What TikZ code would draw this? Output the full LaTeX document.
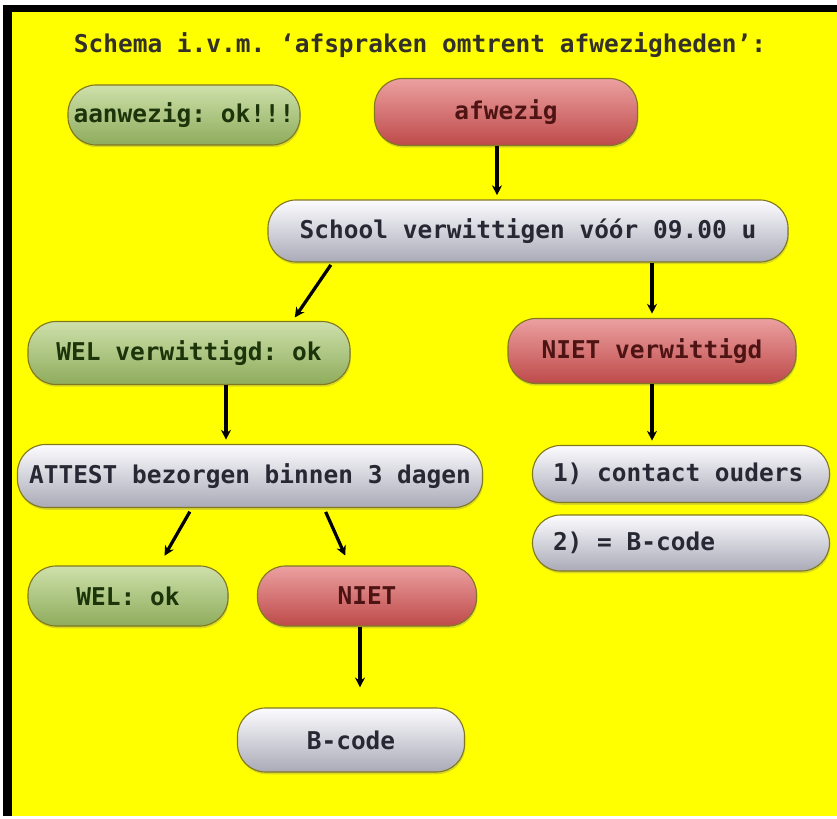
\documentclass[tikz,border=0pt]{standalone}
\usepackage{fontspec}
\setmonofont{DejaVu Sans Mono}
\usetikzlibrary{arrows.meta, positioning, shadows}

\definecolor{bgyellow}{RGB}{255,255,0}
\definecolor{greentop}{RGB}{206,224,170}
\definecolor{greenbot}{RGB}{142,172,92}
\definecolor{greentext}{RGB}{28,52,10}
\definecolor{redtop}{RGB}{236,160,160}
\definecolor{redbot}{RGB}{190,74,74}
\definecolor{redtext}{RGB}{78,20,20}
\definecolor{greytop}{RGB}{252,252,255}
\definecolor{greybot}{RGB}{170,170,184}
\definecolor{greytext}{RGB}{40,40,52}
\definecolor{rim}{RGB}{130,120,30}

\tikzstyle{pill} = [
    rectangle,
    rounded corners = 0.7cm,
    minimum height = 1.5cm,
    inner xsep = 2pt,
    text centered,
    draw = rim,
    line width = 0.8pt,
    font = \fontsize{17.4}{20}\selectfont\ttfamily\bfseries,
    drop shadow = {shadow xshift = 0.6pt, shadow yshift = -1.6pt, opacity = 0.3}
]
\tikzstyle{okpill} = [
    pill,
    top color = greentop,
    bottom color = greenbot,
    text = greentext
]
\tikzstyle{nopill} = [
    pill,
    top color = redtop,
    bottom color = redbot,
    text = redtext
]
\tikzstyle{infopill} = [
    pill,
    top color = greytop,
    bottom color = greybot,
    text = greytext
]
\tikzstyle{heading} = [
    font = \fontsize{17.4}{20}\selectfont\ttfamily\bfseries,
    text = black!85!olive
]
\tikzstyle{arrow} = [line width = 2.3pt, ->, >={Stealth[length = 7pt, width = 7pt]}, shorten > = 3pt]

\begin{document}
\begin{tikzpicture}[node distance = 3cm]
    % frame
    \useasboundingbox (0,0) rectangle (20.925,-20.475);
    \fill [white] (0,0) rectangle (20.925,-20.475);
    \fill [black] (0.075,-0.125) rectangle (20.925,-20.4);
    \fill [bgyellow] (0.3,-0.3) rectangle (20.925,-20.4);

    \node (title) [heading] at (10.5,-1.125)
        {Schema i.v.m. ‘afspraken omtrent afwezigheden’:};

    \node (aanwezig) [okpill, minimum width = 5.8cm] at (4.6,-2.875)
        {aanwezig: ok!!!};

    \node
        (afwezig)
        [
            nopill,
            right of = aanwezig, xshift = 5.05cm, yshift = 0.075cm,
            minimum width = 6.575cm, minimum height = 1.675cm
        ]
        {afwezig};

    \node
        (school)
        [
            infopill,
            below of = afwezig, xshift = 0.55cm, yshift = 0.025cm,
            minimum width = 13cm, minimum height = 1.55cm
        ]
        {School verwittigen vóór 09.00 u};

    \draw [arrow]
        ([xshift = -0.225cm]afwezig.south) --
        ([xshift = -0.225cm]afwezig.south |- school.north);

    \node
        (wel verwittigd)
        [
            okpill,
            below of = school, xshift = -8.475cm, yshift = -0.05cm,
            minimum width = 8.05cm, minimum height = 1.575cm
        ]
        {WEL verwittigd: ok};

    \node
        (niet verwittigd)
        [
            nopill,
            below of = school, xshift = 3.1cm,
            minimum width = 7.2cm, minimum height = 1.625cm
        ]
        {NIET verwittigd};

    \draw [arrow, shorten < = 2pt]
        ([xshift = 1.625cm]school.south west) --
        ([xshift = 6.625cm]wel verwittigd.north west);

    \draw [arrow]
        (niet verwittigd.north |- school.south) --
        (niet verwittigd.north);

    \node
        (attest)
        [
            infopill,
            below of = wel verwittigd, xshift = 1.525cm, yshift = -0.075cm,
            minimum width = 11.625cm, minimum height = 1.575cm
        ]
        {ATTEST bezorgen binnen 3 dagen};

    \draw [arrow]
        ([xshift = 0.925cm]wel verwittigd.south) --
        ([xshift = 0.925cm]wel verwittigd.south |- attest.north);

    \node
        (contact)
        [
            infopill,
            below of = niet verwittigd, xshift = 0.725cm, yshift = -0.075cm,
            minimum width = 7.425cm, minimum height = 1.425cm
        ]
        {\makebox[6.4cm][l]{1) contact ouders}};

    \node
        (b-code rule)
        [
            infopill,
            below of = contact, node distance = 1.725cm,
            minimum width = 7.425cm, minimum height = 1.4cm
        ]
        {\makebox[6.4cm][l]{2) = B-code}};

    \draw [arrow]
        (niet verwittigd.south) --
        (niet verwittigd.south |- contact.north);

    \node
        (wel ok)
        [
            okpill,
            below of = attest, xshift = -3.05cm,
            minimum width = 5cm
        ]
        {WEL: ok};

    \node
        (niet)
        [
            nopill,
            below of = attest, xshift = 2.925cm,
            minimum width = 5.475cm
        ]
        {NIET};

    \draw [arrow, shorten < = 3pt]
        ([xshift = 4.375cm]attest.south west) --
        ([xshift = 3.375cm, yshift = 0.15cm]wel ok.north west);

    \draw [arrow, shorten < = 3pt]
        ([xshift = 7.675cm]attest.south west) --
        ([xshift = 2.25cm, yshift = 0.15cm]niet.north west);

    \node
        (b-code)
        [
            infopill,
            below of = niet, xshift = -0.4cm, yshift = -0.6cm,
            minimum width = 5.675cm, minimum height = 1.6cm
        ]
        {B-code};

    \draw [arrow, shorten > = 0.5cm]
        ([xshift = -0.175cm]niet.south) --
        ([xshift = -0.175cm]niet.south |- b-code.north);

\end{tikzpicture}
\end{document}
